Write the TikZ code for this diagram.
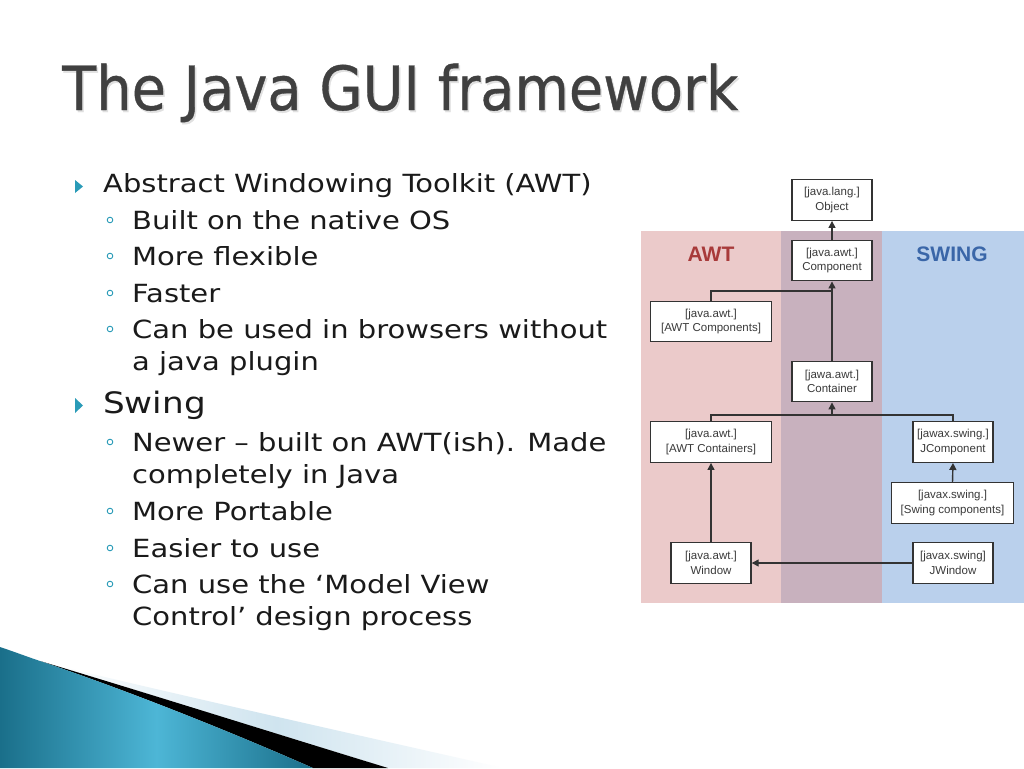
\documentclass[tikz,border=0pt]{standalone}
\usepackage{fontspec}
\setmainfont[FakeStretch=1.16]{DejaVu Sans}
\newfontfamily\titlefont[FakeStretch=0.915,FakeBold=0.6]{DejaVu Sans}
\newfontfamily\arialfont{Liberation Sans}
\usetikzlibrary{arrows.meta}
\definecolor{titlegray}{HTML}{404040}
\definecolor{bodytext}{HTML}{1A1A1A}
\definecolor{bullteal}{HTML}{2A9BB8}
\definecolor{awtpink}{HTML}{EBCACA}
\definecolor{midmauve}{HTML}{C8B1BE}
\definecolor{swingblue}{HTML}{BAD0EC}
\definecolor{awtred}{HTML}{A83A3A}
\definecolor{swingtext}{HTML}{3A66A8}
\definecolor{linegray}{HTML}{333333}
\definecolor{boxtext}{HTML}{3A3A3A}
\definecolor{tealdark}{HTML}{1A6F8A}
\definecolor{teallight}{HTML}{4DB6D6}
\definecolor{paleblue}{HTML}{CFE4EF}
\tikzset{
  body/.style={anchor=base west, inner sep=0, text=bodytext, font=\fontsize{25}{30}\selectfont},
  swingtxt/.style={anchor=base west, inner sep=0, text=bodytext, font=\fontsize{29.5}{36}\selectfont},
  classbox/.style={draw=linegray, line width=1.4, fill=white, align=center, inner sep=0,
    text=boxtext, font=\arialfont\fontsize{11.5}{14.5}\selectfont},
  small/.style={classbox, minimum width=80, minimum height=40.5},
  wide/.style={classbox, minimum width=121.5, minimum height=40.5},
  conn/.style={draw=linegray, line width=1.4, -{Triangle[length=7,width=7]}},
  plain/.style={draw=linegray, line width=1.4},
  lvltwo/.style={draw=bullteal, line width=0.9},
}
\begin{document}
\begin{tikzpicture}[x=1pt,y=-1pt]
\useasboundingbox (0,0) rectangle (1024,768);
\fill[white] (0,0) rectangle (1024,768);

% title
\node[anchor=base west, inner sep=0, text=black!12, font=\titlefont\fontsize{61}{70}\selectfont] at (63.5,112) {The Java GUI framework};
\node[anchor=base west, inner sep=0, text=titlegray, font=\titlefont\fontsize{61}{70}\selectfont] (title) at (62,110) {The Java GUI framework};

% bullets
\fill[bullteal] (75,180) -- (83,186.5) -- (75,193) -- cycle;
\node[body] (t1) at (103,192) {Abstract Windowing Toolkit (AWT)};
\draw[lvltwo] (110,220) circle (2.8);
\node[body] (t2) at (132,229) {Built on the native OS};
\draw[lvltwo] (110,256) circle (2.8);
\node[body] (t3) at (132,265) {More flexible};
\draw[lvltwo] (110,293) circle (2.8);
\node[body] (t4) at (132,302) {Faster};
\draw[lvltwo] (110,329) circle (2.8);
\node[body] (t5) at (132,338) {Can be used in browsers without};
\node[body] (t6) at (132,370) {a java plugin};
\fill[bullteal] (75,398) -- (83,405.5) -- (75,413) -- cycle;
\node[swingtxt] (s0) at (103,413) {Swing};
\draw[lvltwo] (110,442) circle (2.8);
\node[body] (s1) at (132,451) {Newer -- built on AWT(ish). Made};
\node[body] (s2) at (132,483) {completely in Java};
\draw[lvltwo] (110,511) circle (2.8);
\node[body] (s3) at (132,520) {More Portable};
\draw[lvltwo] (110,548) circle (2.8);
\node[body] (s4) at (132,557) {Easier to use};
\draw[lvltwo] (110,584) circle (2.8);
\node[body] (s5) at (132,593) {Can use the ‘Model View};
\node[body] (s6) at (132,625) {Control’ design process};

% diagram bands
\fill[awtpink] (641,231) rectangle (781,603);
\fill[midmauve] (781,231) rectangle (882,603);
\fill[swingblue] (882,231) rectangle (1024,603);
\node[text=awtred, font=\arialfont\bfseries\fontsize{21}{24}\selectfont] (lawt) at (711,254) {AWT};
\node[text=swingtext, font=\arialfont\bfseries\fontsize{21}{24}\selectfont] (lswing) at (952,254) {SWING};

% boxes
\node[small] (obj) at (832,200) {[java.lang.]\\Object};
\node[small] (comp) at (832,260.5) {[java.awt.]\\Component};
\node[wide] (awtcomp) at (711,321.5) {[java.awt.]\\{}[AWT Components]};
\node[small] (cont) at (832,381.5) {[jawa.awt.]\\Container};
\node[wide] (awtcont) at (711,442) {[java.awt.]\\{}[AWT Containers]};
\node[small] (jcomp) at (953,442) {[jawax.swing.]\\JComponent};
\node[wide] (swcomp) at (952.5,503) {[javax.swing.]\\{}[Swing components]};
\node[small] (win) at (711,563) {[java.awt.]\\Window};
\node[small] (jwin) at (953,563) {[javax.swing]\\JWindow};

% connectors
\coordinate (j1) at (832,291);
\coordinate (j2) at (832,415);
\draw[conn] (comp.north) -- (obj.south);
\draw[plain] (awtcomp.north) |- (j1);
\draw[conn] (cont.north) -- (comp.south);
\draw[plain] (awtcont.north) |- (j2);
\draw[plain] (jcomp.north) |- (j2);
\draw[conn] (j2) -- (cont.south);
\draw[conn] (win.north) -- (awtcont.south);
\draw[conn] (swcomp.north) -- (jcomp.south);
\draw[conn] (jwin.west) -- (win.east);

% bottom-left swoosh
\shade[left color=white, right color=white, middle color=paleblue]
  (50,664) .. controls (200,700) and (380,740) .. (503,768) -- (388,768) -- cycle;
\fill[black] (40,661) .. controls (150,694) and (280,735) .. (388,768) -- (313,768) .. controls (220,727) and (120,688) .. (40,661) -- cycle;
\shade[left color=tealdark, right color=tealdark, middle color=teallight]
  (0,647) .. controls (15,652) and (28,657) .. (40,661) .. controls (120,688) and (220,727) .. (313,768) -- (0,768) -- cycle;
\end{tikzpicture}
\end{document}
